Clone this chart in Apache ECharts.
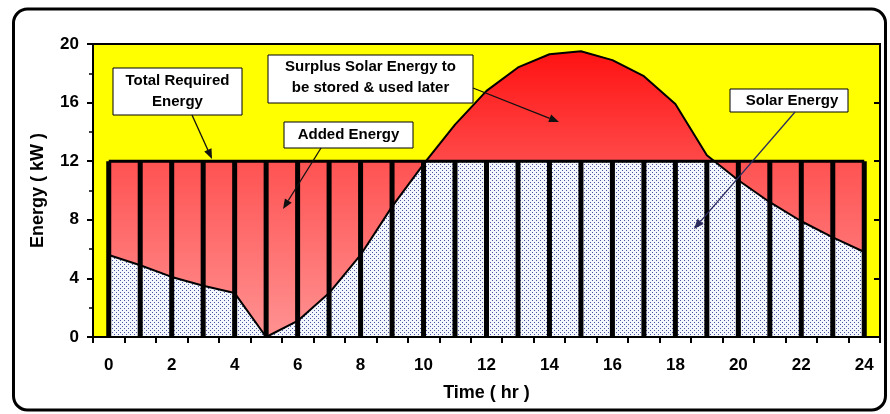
<!DOCTYPE html>
<html>
<head>
<meta charset="utf-8">
<script src="https://cdn.jsdelivr.net/npm/echarts@6/dist/echarts.min.js"></script>
<style>
  html, body { margin: 0; padding: 0; background: #ffffff; }
  #chart { width: 890px; height: 414px; }
</style>
</head>
<body>
<div id="chart"></div>
<script>
// Hour of the day (category axis)
const hours = ['0', '1', '2', '3', '4', '5', '6', '7', '8', '9', '10', '11', '12',
               '13', '14', '15', '16', '17', '18', '19', '20', '21', '22', '23', '24'];

// Power delivered by the solar array, kW
const solarEnergy = [5.6, 4.9, 4.1, 3.5, 3.0, 0.0, 1.1, 3.0, 5.6, 8.9, 11.8, 14.5, 16.8,
                     18.4, 19.3, 19.5, 18.9, 17.8, 15.9, 12.4, 10.7, 9.2, 7.9, 6.8, 5.8];

// Constant demand of the installation, kW
const requiredEnergy = [12, 12, 12, 12, 12, 12, 12, 12, 12, 12, 12, 12, 12,
                        12, 12, 12, 12, 12, 12, 12, 12, 12, 12, 12, 12];

// Energy axis range and step
const energyMin = 0;
const energyMax = 20;
const energyStep = 4;

const FONT = '"Liberation Sans", Arial, sans-serif';

// Plot rectangle
const GRID_LEFT = 93, GRID_RIGHT = 10, GRID_TOP = 44, GRID_BOTTOM = 77;
const CHART_H = 414;
const plotH = CHART_H - GRID_TOP - GRID_BOTTOM;
const demandLevel = requiredEnergy[0];
// A second grid covering only the band below the demand level: the dotted
// solar fill drawn in it is clipped at the demand line.
const lowerTop = GRID_TOP + plotH * (energyMax - demandLevel) / (energyMax - energyMin);

// Dotted fill for the solar energy used directly
function makeDots() {
  const c = document.createElement('canvas');
  c.width = 4; c.height = 4;
  const g = c.getContext('2d');
  g.fillStyle = '#f4f6fd';
  g.fillRect(0, 0, 4, 4);
  g.fillStyle = '#4a56a0';
  g.fillRect(0, 0, 1, 1);
  g.fillRect(2, 2, 1, 1);
  return c;
}
const dots = makeDots();

const redSurplus = new echarts.graphic.LinearGradient(0, 0, 0, 1, [
  { offset: 0, color: '#ff1212' },
  { offset: 1, color: '#ffa0a0' }
]);
const redDemand = new echarts.graphic.LinearGradient(0, 0, 0, 1, [
  { offset: 0, color: '#ff5252' },
  { offset: 1, color: '#ff9292' }
]);

// Callout boxes and their arrows
function callout(x, y, w, h, lines, lineY, tx) {
  const els = [{
    type: 'rect', z: 100,
    shape: { x: x, y: y, width: w, height: h },
    style: { fill: '#ffffff', stroke: '#000000', lineWidth: 1 }
  }];
  lines.forEach(function (t, i) {
    els.push({
      type: 'text', z: 101,
      style: {
        text: t, x: tx !== undefined ? tx : x + w / 2, y: lineY[i],
        align: 'center', verticalAlign: 'middle',
        font: 'bold 15px ' + FONT, fill: '#000000'
      }
    });
  });
  return els;
}
function arrow(x1, y1, x2, y2, color) {
  const a = Math.atan2(y2 - y1, x2 - x1);
  const L = 10, W = 4;
  const bx = x2 - L * Math.cos(a), by = y2 - L * Math.sin(a);
  return [
    { type: 'line', z: 100, shape: { x1: x1, y1: y1, x2: bx, y2: by },
      style: { stroke: color, lineWidth: 1.3 } },
    { type: 'polygon', z: 100,
      shape: { points: [[x2, y2],
                        [bx - W * Math.sin(a), by + W * Math.cos(a)],
                        [bx + W * Math.sin(a), by - W * Math.cos(a)]] },
      style: { fill: color } }
  ];
}

const graphics = [].concat(
  [{
    type: 'rect', z: 0, silent: true,
    shape: { x: 13.5, y: 9, width: 872, height: 401, r: 14 },
    style: { fill: 'none', stroke: '#000000', lineWidth: 3 }
  }],
  callout(113, 68, 129, 47, ['Total Required', 'Energy'], [81, 102]),
  arrow(192, 115, 212, 159, '#111111'),
  callout(268, 55, 205, 48, ['Surplus Solar Energy to', 'be stored & used later'], [67, 88]),
  arrow(473, 88, 559, 122, '#111111'),
  callout(284, 122, 129, 26, ['Added Energy'], [135]),
  arrow(321, 148, 283, 209, '#111111'),
  callout(730, 89, 118, 23, ['Solar Energy'], [101], 792),
  arrow(795, 112, 694, 229, '#2b2b5e')
);

const labelStyle = { color: '#000000', fontFamily: FONT, fontWeight: 'bold', fontSize: 17 };
const nameStyle = { color: '#000000', fontFamily: FONT, fontWeight: 'bold', fontSize: 18 };
const black = { color: '#000000' };

const option = {
  animation: false,
  backgroundColor: '#ffffff',
  grid: [
    { left: GRID_LEFT, right: GRID_RIGHT, top: GRID_TOP, bottom: GRID_BOTTOM,
      show: true, backgroundColor: '#ffff00', borderColor: '#000000', borderWidth: 2 },
    { left: GRID_LEFT, right: GRID_RIGHT, top: lowerTop, bottom: GRID_BOTTOM,
      show: false }
  ],
  xAxis: [
    { type: 'category', gridIndex: 0, data: hours, boundaryGap: true, z: 10,
      name: 'Time ( hr )', nameLocation: 'middle', nameGap: 47, nameTextStyle: nameStyle,
      axisLine: { show: true, lineStyle: { color: '#000000', width: 2 } },
      axisTick: { show: true, interval: 0, inside: false, length: 6, lineStyle: { color: '#000000', width: 2 } },
      axisLabel: Object.assign({ interval: 1, margin: 20 }, labelStyle),
      splitLine: { show: false } },
    { type: 'category', gridIndex: 0, data: hours, boundaryGap: true, z: 10,
      axisLine: { show: false },
      axisTick: { show: true, interval: 1, inside: true, length: 4, lineStyle: { color: '#000000', width: 2 } },
      axisLabel: { show: false }, splitLine: { show: false } },
    { type: 'category', gridIndex: 1, data: hours, boundaryGap: true, show: false }
  ],
  yAxis: [
    { type: 'value', gridIndex: 0, min: energyMin, max: energyMax, interval: energyStep, z: 10,
      name: 'Energy ( kW )', nameLocation: 'middle', nameGap: 46, nameTextStyle: nameStyle,
      axisLine: { show: true, lineStyle: { color: '#000000', width: 2 } },
      axisTick: { show: true, inside: false, length: 6, lineStyle: { color: '#000000', width: 2 } },
      minorTick: { show: true, splitNumber: 2, length: 4, lineStyle: { color: '#000000', width: 1.5 } },
      axisLabel: Object.assign({ margin: 14 }, labelStyle),
      splitLine: { show: false }, minorSplitLine: { show: false } },
    { type: 'value', gridIndex: 0, min: energyMin, max: energyMax, interval: energyStep, z: 10,
      axisLine: { show: false },
      axisTick: { show: true, inside: true, length: 6, lineStyle: { color: '#000000', width: 2 } },
      axisLabel: { show: false }, splitLine: { show: false } },
    { type: 'value', gridIndex: 1, min: energyMin, max: demandLevel, show: false }
  ],
  graphic: graphics,
  series: [
    { name: 'Solar Energy', type: 'line', xAxisIndex: 0, yAxisIndex: 0, data: solarEnergy,
      symbol: 'none', lineStyle: { width: 0, opacity: 0 },
      areaStyle: { color: redSurplus, opacity: 1 }, z: 1 },
    { name: 'Total Required Energy', type: 'line', xAxisIndex: 0, yAxisIndex: 0, data: requiredEnergy,
      symbol: 'none', lineStyle: { width: 0, opacity: 0 },
      areaStyle: { color: redDemand, opacity: 1 }, z: 2 },
    { name: 'Solar Energy used', type: 'line', xAxisIndex: 2, yAxisIndex: 2, data: solarEnergy,
      symbol: 'none', clip: true, lineStyle: { width: 0, opacity: 0 },
      areaStyle: { color: { image: dots, repeat: 'repeat' }, opacity: 1 }, z: 3 },
    { name: 'Hourly demand', type: 'bar', xAxisIndex: 0, yAxisIndex: 0, data: requiredEnergy,
      barWidth: 5, itemStyle: black, z: 4 },
    { name: 'Demand line', type: 'line', xAxisIndex: 0, yAxisIndex: 0, data: requiredEnergy,
      symbol: 'none', lineStyle: { color: '#000000', width: 3 }, z: 5 },
    { name: 'Solar line', type: 'line', xAxisIndex: 0, yAxisIndex: 0, data: solarEnergy,
      symbol: 'none', lineStyle: { color: '#000000', width: 2 }, z: 6 }
  ]
};

const chart = echarts.init(document.getElementById('chart'), null, { renderer: 'canvas' });
chart.setOption(option);
</script>
</body>
</html>
